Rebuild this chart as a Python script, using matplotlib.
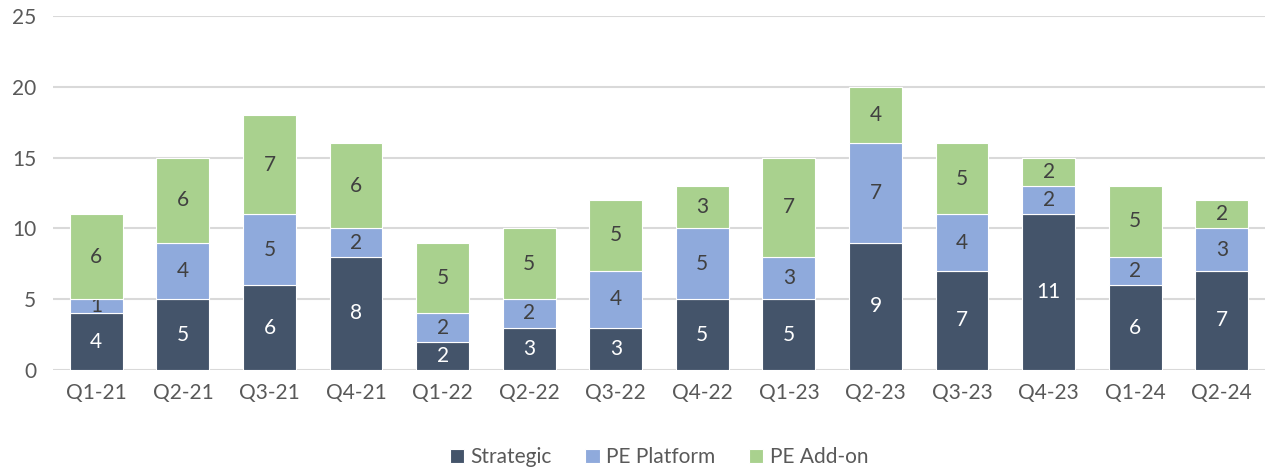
import matplotlib.pyplot as plt
import numpy as np

quarters = ["Q1-21", "Q2-21", "Q3-21", "Q4-21", "Q1-22", "Q2-22", "Q3-22",
            "Q4-22", "Q1-23", "Q2-23", "Q3-23", "Q4-23", "Q1-24", "Q2-24"]
strategic = [4, 5, 6, 8, 2, 3, 3, 5, 5, 9, 7, 11, 6, 7]
pe_platform = [1, 4, 5, 2, 2, 2, 4, 5, 3, 7, 4, 2, 2, 3]
pe_addon = [6, 6, 7, 6, 5, 5, 5, 3, 7, 4, 5, 2, 5, 2]

plt.rcParams["font.family"] = ["Lato", "DejaVu Sans"]

series = [
    ("Strategic", strategic, "#44546A", "white"),
    ("PE Platform", pe_platform, "#8FAADC", "#404040"),
    ("PE Add-on", pe_addon, "#A9D18E", "#404040"),
]

fig = plt.figure(figsize=(12.72, 4.67), dpi=100)
ax = fig.add_axes([0.0417, 0.2077, 0.9528, 0.758])

x = np.arange(len(quarters))
bottom = np.zeros(len(quarters))
for name, vals, color, txt in series:
    vals = np.array(vals, dtype=float)
    bars = ax.bar(x, vals, 0.61, bottom=bottom, color=color, label=name,
                  edgecolor="white", linewidth=0.8, zorder=3)
    ax.bar_label(bars, labels=[str(int(v)) for v in vals], label_type="center",
                 color=txt, fontsize=15)
    bottom += vals

ax.set_xlim(-0.5, len(quarters) - 0.5)
ax.set_ylim(0, 25)
ax.set_yticks(range(0, 26, 5))
ax.set_xticks(x, quarters)
ax.grid(axis="y", color="#D9D9D9", linewidth=1.5, zorder=0)
for s in ax.spines.values():
    s.set_visible(False)
ax.tick_params(length=0, labelsize=15, labelcolor="#595959")
ax.tick_params(axis="y", pad=12)
ax.tick_params(axis="x", pad=9)

ax.legend(loc="upper center", bbox_to_anchor=(0.5, -0.165), ncol=3, frameon=False,
          fontsize=15, labelcolor="#595959", handlelength=0.7, handleheight=0.7,
          handletextpad=0.3, columnspacing=1.6)

fig.savefig("out.png", dpi=100)
